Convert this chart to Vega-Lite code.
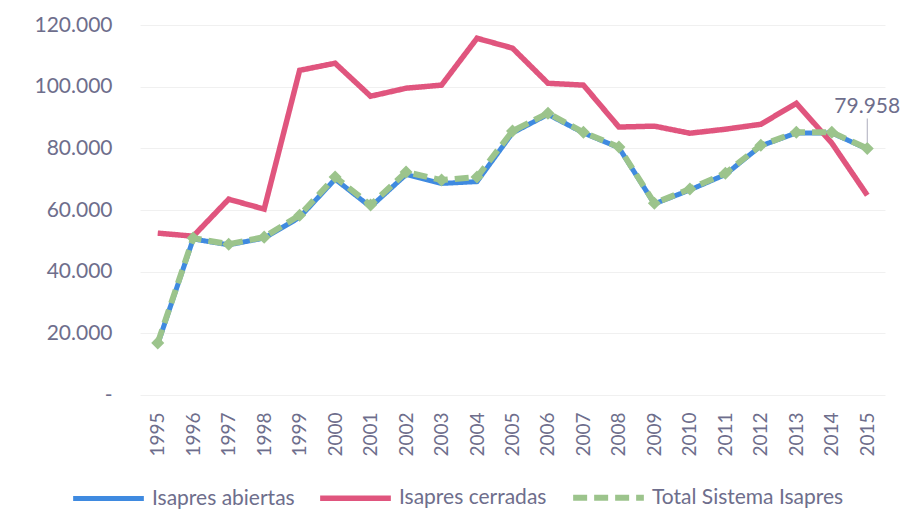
{
  "$schema": "https://vega.github.io/schema/vega-lite/v6.json",
  "width": 745,
  "height": 370,
  "autosize": "none",
  "padding": {"left": 140, "top": 25, "right": 21, "bottom": 115},
  "background": "white",
  "config": {
    "view": {"stroke": null},
    "font": "Lato",
    "locale": {"number": {"decimal": ",", "thousands": ".", "grouping": [3], "currency": ["$", ""]}}
  },
  "data": {
    "values": [
      {"year": "1995", "serie": "Isapres abiertas", "value": 16500},
      {"year": "1996", "serie": "Isapres abiertas", "value": 50600},
      {"year": "1997", "serie": "Isapres abiertas", "value": 48700},
      {"year": "1998", "serie": "Isapres abiertas", "value": 50900},
      {"year": "1999", "serie": "Isapres abiertas", "value": 57600},
      {"year": "2000", "serie": "Isapres abiertas", "value": 70000},
      {"year": "2001", "serie": "Isapres abiertas", "value": 61000},
      {"year": "2002", "serie": "Isapres abiertas", "value": 71500},
      {"year": "2003", "serie": "Isapres abiertas", "value": 68600},
      {"year": "2004", "serie": "Isapres abiertas", "value": 69200},
      {"year": "2005", "serie": "Isapres abiertas", "value": 85000},
      {"year": "2006", "serie": "Isapres abiertas", "value": 91000},
      {"year": "2007", "serie": "Isapres abiertas", "value": 85000},
      {"year": "2008", "serie": "Isapres abiertas", "value": 80200},
      {"year": "2009", "serie": "Isapres abiertas", "value": 62000},
      {"year": "2010", "serie": "Isapres abiertas", "value": 66500},
      {"year": "2011", "serie": "Isapres abiertas", "value": 71500},
      {"year": "2012", "serie": "Isapres abiertas", "value": 80800},
      {"year": "2013", "serie": "Isapres abiertas", "value": 85000},
      {"year": "2014", "serie": "Isapres abiertas", "value": 85000},
      {"year": "2015", "serie": "Isapres abiertas", "value": 79800},
      {"year": "1995", "serie": "Isapres cerradas", "value": 52500},
      {"year": "1996", "serie": "Isapres cerradas", "value": 51500},
      {"year": "1997", "serie": "Isapres cerradas", "value": 63500},
      {"year": "1998", "serie": "Isapres cerradas", "value": 60300},
      {"year": "1999", "serie": "Isapres cerradas", "value": 105300},
      {"year": "2000", "serie": "Isapres cerradas", "value": 107600},
      {"year": "2001", "serie": "Isapres cerradas", "value": 96900},
      {"year": "2002", "serie": "Isapres cerradas", "value": 99500},
      {"year": "2003", "serie": "Isapres cerradas", "value": 100500},
      {"year": "2004", "serie": "Isapres cerradas", "value": 115700},
      {"year": "2005", "serie": "Isapres cerradas", "value": 112500},
      {"year": "2006", "serie": "Isapres cerradas", "value": 101100},
      {"year": "2007", "serie": "Isapres cerradas", "value": 100500},
      {"year": "2008", "serie": "Isapres cerradas", "value": 86900},
      {"year": "2009", "serie": "Isapres cerradas", "value": 87200},
      {"year": "2010", "serie": "Isapres cerradas", "value": 84900},
      {"year": "2011", "serie": "Isapres cerradas", "value": 86200},
      {"year": "2012", "serie": "Isapres cerradas", "value": 87800},
      {"year": "2013", "serie": "Isapres cerradas", "value": 94600},
      {"year": "2014", "serie": "Isapres cerradas", "value": 81700},
      {"year": "2015", "serie": "Isapres cerradas", "value": 64800},
      {"year": "1995", "serie": "Total Sistema Isapres", "value": 16900},
      {"year": "1996", "serie": "Total Sistema Isapres", "value": 50900},
      {"year": "1997", "serie": "Total Sistema Isapres", "value": 48900},
      {"year": "1998", "serie": "Total Sistema Isapres", "value": 51200},
      {"year": "1999", "serie": "Total Sistema Isapres", "value": 58300},
      {"year": "2000", "serie": "Total Sistema Isapres", "value": 70700},
      {"year": "2001", "serie": "Total Sistema Isapres", "value": 61600},
      {"year": "2002", "serie": "Total Sistema Isapres", "value": 72300},
      {"year": "2003", "serie": "Total Sistema Isapres", "value": 69700},
      {"year": "2004", "serie": "Total Sistema Isapres", "value": 70700},
      {"year": "2005", "serie": "Total Sistema Isapres", "value": 85600},
      {"year": "2006", "serie": "Total Sistema Isapres", "value": 91400},
      {"year": "2007", "serie": "Total Sistema Isapres", "value": 85200},
      {"year": "2008", "serie": "Total Sistema Isapres", "value": 80400},
      {"year": "2009", "serie": "Total Sistema Isapres", "value": 62200},
      {"year": "2010", "serie": "Total Sistema Isapres", "value": 66800},
      {"year": "2011", "serie": "Total Sistema Isapres", "value": 71900},
      {"year": "2012", "serie": "Total Sistema Isapres", "value": 81000},
      {"year": "2013", "serie": "Total Sistema Isapres", "value": 85200},
      {"year": "2014", "serie": "Total Sistema Isapres", "value": 85200},
      {"year": "2015", "serie": "Total Sistema Isapres", "value": 79958}
    ]
  },
  "encoding": {
    "x": {
      "field": "year", "type": "ordinal",
      "scale": {"type": "point", "padding": 0.5},
      "axis": {
        "title": null, "labelAngle": -90, "labelFontSize": 19, "labelColor": "#6e6e8c",
        "labelPadding": 17, "ticks": false, "domain": false, "grid": false
      }
    },
    "y": {
      "field": "value", "type": "quantitative",
      "scale": {"domain": [0, 120000], "nice": false},
      "axis": {
        "title": null, "values": [0, 20000, 40000, 60000, 80000, 100000, 120000],
        "format": ",d", "labelExpr": "datum.value == 0 ? '-' : datum.label",
        "labelFontSize": 21, "labelColor": "#6e6e8c", "labelPadding": 28,
        "ticks": false, "domain": false, "gridColor": "#f0f0f0", "gridWidth": 1
      }
    }
  },
  "layer": [
    {
      "mark": {"type": "line", "strokeCap": "butt"},
      "encoding": {
        "color": {
          "field": "serie", "type": "nominal",
          "scale": {"domain": ["Isapres abiertas", "Isapres cerradas", "Total Sistema Isapres"], "range": ["#3f8ae0", "#e0557e", "#9cc48c"]},
          "legend": {
            "title": null, "orient": "none", "legendX": -70, "legendY": 434,
            "direction": "horizontal", "columns": 3, "columnPadding": 14,
            "symbolType": "stroke", "symbolSize": 5000, "symbolStrokeWidth": 5,
            "labelFontSize": 21, "labelColor": "#6e6e8c", "labelOffset": 5, "labelLimit": 400,
            "padding": 0, "offset": 0
          }
        },
        "strokeDash": {
          "field": "serie", "type": "nominal",
          "scale": {"domain": ["Isapres abiertas", "Isapres cerradas", "Total Sistema Isapres"], "range": [[1, 0], [1, 0], [14, 7]]},
          "legend": null
        },
        "strokeWidth": {
          "field": "serie", "type": "nominal",
          "scale": {"domain": ["Isapres abiertas", "Isapres cerradas", "Total Sistema Isapres"], "range": [5, 6, 7]},
          "legend": null
        }
      }
    },
    {
      "transform": [{"filter": "datum.serie == 'Total Sistema Isapres'"}],
      "mark": {"type": "point", "shape": "diamond", "filled": true, "opacity": 1, "color": "#9cc48c", "size": 170}
    },
    {
      "transform": [{"filter": "datum.serie == 'Total Sistema Isapres' && datum.year == '2015'"}],
      "mark": {"type": "text", "dy": -35, "fontSize": 21, "color": "#6e6e8c", "baseline": "alphabetic"},
      "encoding": {"text": {"field": "value", "type": "quantitative", "format": ",d"}}
    },
    {
      "transform": [{"filter": "datum.serie == 'Total Sistema Isapres' && datum.year == '2015'"}],
      "mark": {"type": "tick", "orient": "vertical", "size": 24, "thickness": 1, "yOffset": -18, "color": "#8a8aa0"}
    }
  ]
}
